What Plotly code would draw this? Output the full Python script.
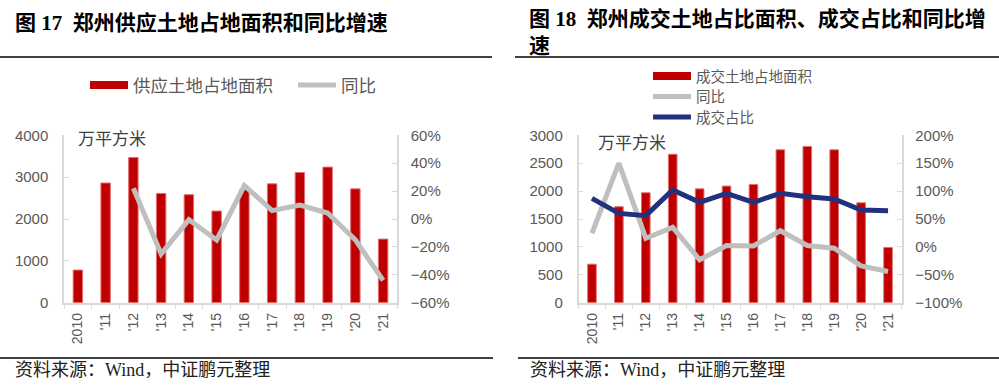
import plotly.graph_objects as go

# ---------------- data ----------------
years = ["2010", "'11", "'12", "'13", "'14", "'15", "'16", "'17", "'18", "'19", "'20", "'21"]
supply_area = [780, 2860, 3470, 2610, 2580, 2190, 2700, 2840, 3110, 3240, 2720, 1520]
supply_yoy = [None, None, 0.22, -0.25, -0.005, -0.15, 0.24, 0.06, 0.10, 0.043, -0.15, -0.44]
deal_area = [690, 1720, 1970, 2660, 2040, 2090, 2120, 2740, 2800, 2740, 1790, 990]
deal_yoy = [0.245, 1.50, 0.156, 0.35, -0.23, 0.024, 0.018, 0.29, 0.024, -0.024, -0.34, -0.44]
deal_share = [0.87, 0.60, 0.56, 1.02, 0.80, 0.96, 0.80, 0.96, 0.90, 0.86, 0.66, 0.65]

left_title = "图 17  郑州供应土地占地面积和同比增速"
right_title = "图 18  郑州成交土地占比面积、成交占比和同比增<br>速"
unit_label = "万平方米"
source_text = "资料来源：Wind，中证鹏元整理"

# ---------------- style ----------------
W, H = 999, 388
RED = "#C00000"
GRAY = "#BFBFBF"
BLUE = "#223080"
AX = "#D9D9D9"
TXT = "#595959"
SANS = "Liberation Sans, Noto Sans CJK SC, sans-serif"
CJK = "Noto Sans CJK SC, sans-serif"
SERIF = "Liberation Serif, Noto Sans CJK SC, serif"


def px_x(v):
    return v / W


def px_y(v):
    return 1 - v / H


fig = go.Figure()

# left chart
fig.add_trace(go.Bar(x=years, y=supply_area, xaxis="x", yaxis="y", width=0.34,
                     marker=dict(color=RED, line=dict(color="#E07070", width=1)),
                     showlegend=False, name="供应土地占地面积"))
fig.add_trace(go.Scatter(x=years, y=supply_yoy, xaxis="x", yaxis="y2", mode="lines",
                         line=dict(color=GRAY, width=5), showlegend=False, name="同比"))
# right chart
fig.add_trace(go.Bar(x=years, y=deal_area, xaxis="x2", yaxis="y3", width=0.32,
                     marker=dict(color=RED, line=dict(color="#E07070", width=1)),
                     showlegend=False, name="成交土地占地面积"))
fig.add_trace(go.Scatter(x=years, y=deal_yoy, xaxis="x2", yaxis="y4", mode="lines",
                         line=dict(color=GRAY, width=5), showlegend=False, name="同比"))
fig.add_trace(go.Scatter(x=years, y=deal_share, xaxis="x2", yaxis="y4", mode="lines",
                         line=dict(color=BLUE, width=5), showlegend=False, name="成交占比"))

# legend proxies (thick line swatches as in the reference)
legend_items = [
    ("供应土地占地面积", RED, 8, "legend"),
    ("同比", GRAY, 5, "legend2"),
    ("成交土地占地面积", RED, 8, "legend3"),
    ("同比", GRAY, 5, "legend4"),
    ("成交占比", BLUE, 5, "legend5"),
]
for name, col, w, lg in legend_items:
    fig.add_trace(go.Scatter(x=[None], y=[None], mode="lines", name=name,
                             line=dict(color=col, width=w), legend=lg,
                             xaxis="x", yaxis="y"))


def leg(x, y, size):
    return dict(x=px_x(x), y=px_y(y), xanchor="left", yanchor="middle",
                font=dict(family=CJK, size=size, color=TXT),
                bgcolor="rgba(0,0,0,0)", borderwidth=0,
                itemwidth=38, tracegroupgap=0)


ydom = [px_y(302.7), px_y(135.3)]
tickfont = dict(family=SANS, size=15, color=TXT)

common_x = dict(type="category", showline=True, linecolor=AX, linewidth=1.5,
                ticks="outside", tickson="boundaries", ticklen=5, tickcolor=AX,
                tickangle=-90, tickfont=dict(family=SANS, size=14, color=TXT),
                showgrid=False, zeroline=False, ticklabelstandoff=3,
                fixedrange=True, automargin=False)
common_y = dict(showline=True, linecolor=AX, linewidth=1.5, ticks="inside",
                ticklen=5, tickcolor=AX, tickfont=tickfont, showgrid=False,
                zeroline=False, automargin=False)

fig.update_layout(
    template="none",
    width=W, height=H,
    margin=dict(l=0, r=0, t=0, b=0, autoexpand=False),
    paper_bgcolor="white", plot_bgcolor="white",
    xaxis=dict(domain=[px_x(64), px_x(397)], anchor="y", **common_x),
    yaxis=dict(domain=ydom, anchor="x", range=[0, 4000], dtick=1000,
               ticklabelstandoff=11, **common_y),
    yaxis2=dict(overlaying="y", side="right", anchor="x", range=[-0.6, 0.6],
                dtick=0.2, tickformat=".0%", ticklabelstandoff=9, **common_y),
    xaxis2=dict(domain=[px_x(578.5), px_x(901.5)], anchor="y3", **common_x),
    yaxis3=dict(domain=ydom, anchor="x2", range=[0, 3000], dtick=500,
                ticklabelstandoff=11, **common_y),
    yaxis4=dict(overlaying="y3", side="right", anchor="x2", range=[-1, 2],
                dtick=0.5, tickformat=".0%", ticklabelstandoff=9, **common_y),
    legend=leg(85, 85, 17.5),
    legend2=leg(293, 85, 17.5),
    legend3=leg(648, 76, 14.5),
    legend4=leg(648, 96.5, 14.5),
    legend5=leg(648, 117, 14.5),
    showlegend=True,
)

annotations = [
    dict(text="<b>" + left_title + "</b>", x=px_x(13), y=px_y(22.5), xanchor="left",
         yanchor="middle", font=dict(family=SERIF, size=21, color="#000000")),
    dict(text="<b>" + right_title + "</b>", x=px_x(527), y=px_y(32.5), xanchor="left",
         yanchor="middle", align="left", font=dict(family=SERIF, size=21, color="#000000")),
    dict(text=unit_label, x=px_x(76), y=px_y(137), xanchor="left", yanchor="middle",
         font=dict(family=CJK, size=17, color="#404040")),
    dict(text=unit_label, x=px_x(596), y=px_y(141), xanchor="left", yanchor="middle",
         font=dict(family=CJK, size=17, color="#404040")),
    dict(text=source_text, x=px_x(13), y=px_y(370), xanchor="left", yanchor="middle",
         font=dict(family=SERIF, size=18, color="#222222")),
    dict(text=source_text, x=px_x(528), y=px_y(370), xanchor="left", yanchor="middle",
         font=dict(family=SERIF, size=18, color="#222222")),
]
for a in annotations:
    a.update(xref="paper", yref="paper", showarrow=False)
fig.update_layout(annotations=annotations)

shapes = [
    (0, 492, 57), (515, 999, 57), (0, 493, 358), (518, 999, 358),
]
fig.update_layout(shapes=[
    dict(type="line", xref="paper", yref="paper", x0=px_x(a), x1=px_x(b),
         y0=px_y(y), y1=px_y(y), line=dict(color="#000000", width=1.5))
    for a, b, y in shapes
])

fig.write_html(
    "out.html",
    config={"displayModeBar": False},
    post_script="document.body.style.margin='0';document.body.style.overflow='hidden';",
)
